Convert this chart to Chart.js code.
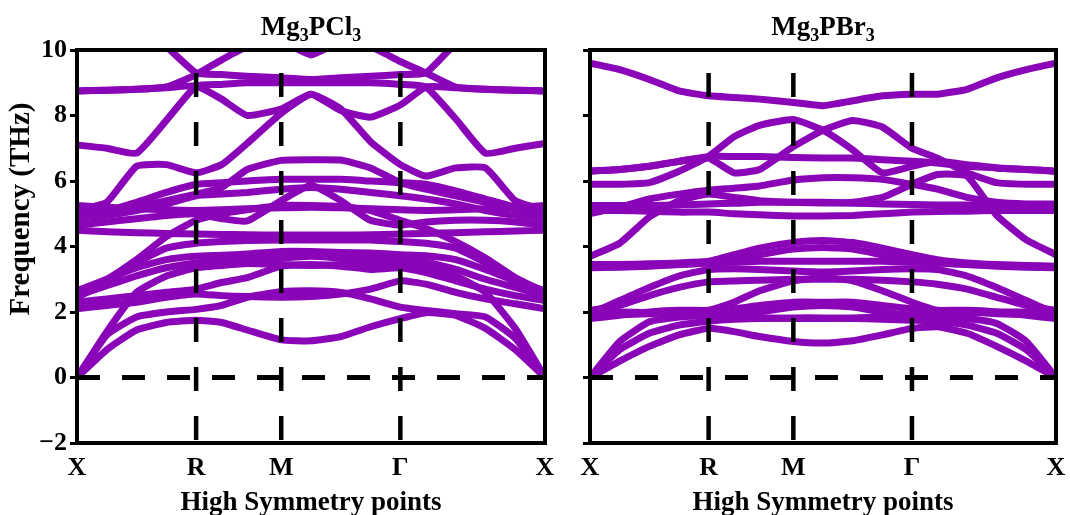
<!DOCTYPE html>
<html>
<head>
<meta charset="utf-8">
<script src="https://cdn.jsdelivr.net/npm/chart.js@4.4.0/dist/chart.umd.min.js"></script>
<style>
  html, body { margin: 0; padding: 0; background: #fff; }
  #wrap { position: relative; width: 1070px; height: 515px; }
  .panel { position: absolute; top: 0; height: 515px; }
</style>
</head>
<body>
<div id="wrap">
  <div class="panel" style="left:0;width:565px"><canvas id="clChart"></canvas></div>
  <div class="panel" style="left:565px;width:505px"><canvas id="brChart"></canvas></div>
</div>
<script>
// q-path sampling along X-R-M-Γ-X (path length units)
var kPts = [0, 0.35, 0.7, 1.05, 1.4, 1.7, 2.0, 2.4, 2.75, 3.1, 3.45, 3.8, 4.1, 4.45, 4.8, 5.15, 5.5];
var symPos = [0, 1.4, 2.4, 3.8, 5.5];
var symLabels = ['X', 'R', 'M', 'Γ', 'X'];
var yTicks = [-2, 0, 2, 4, 6, 8, 10];
var dashTop = 9.3;

// phonon branches of Mg3PCl3 (THz)
var bandsCl = [
  [0, 0.85, 1.45, 1.68, 1.75, 1.68, 1.45, 1.15, 1.12, 1.25, 1.55, 1.8, 1.98, 1.9, 1.5, 0.85, 0],
  [0, 1.3, 1.85, 2.0, 2.08, 2.2, 2.45, 2.62, 2.65, 2.6, 2.4, 2.15, 2.05, 1.95, 1.85, 1.2, 0],
  [0, 1.4, 2.6, 3.1, 3.35, 3.42, 3.48, 3.45, 3.42, 3.45, 3.5, 3.45, 3.35, 3.1, 2.6, 1.5, 0],
  [2.1, 2.2, 2.3, 2.45, 2.55, 2.5, 2.47, 2.45, 2.47, 2.55, 2.7, 2.95, 2.85, 2.6, 2.4, 2.25, 2.1],
  [2.3, 2.4, 2.5, 2.6, 2.7, 2.9, 3.05, 3.4, 3.45, 3.4, 3.3, 3.35, 3.2, 2.95, 2.7, 2.5, 2.35],
  [2.5, 2.8, 3.1, 3.35, 3.5, 3.55, 3.6, 3.65, 3.7, 3.65, 3.62, 3.6, 3.52, 3.3, 3.0, 2.75, 2.5],
  [2.65, 3.0, 3.35, 3.6, 3.7, 3.73, 3.77, 3.85, 3.85, 3.82, 3.8, 3.75, 3.72, 3.6, 3.3, 2.95, 2.65],
  [2.45, 2.9, 3.5, 3.95, 4.1, 4.15, 4.18, 4.2, 4.2, 4.2, 4.2, 4.15, 4.1, 3.95, 3.5, 2.9, 2.45],
  [4.5, 4.45, 4.42, 4.4, 4.38, 4.37, 4.36, 4.35, 4.35, 4.35, 4.36, 4.38, 4.4, 4.42, 4.45, 4.47, 4.5],
  [2.6, 3.0, 3.6, 4.3, 4.8, 5.0, 5.12, 5.25, 5.25, 5.22, 5.1, 4.8, 4.55, 4.15, 3.65, 3.05, 2.6],
  [4.65, 4.75, 4.85, 4.95, 5.0, 4.85, 4.78, 5.4, 5.87, 5.4, 4.8, 4.65, 4.75, 4.8, 4.8, 4.75, 4.65],
  [5.25, 5.2, 5.15, 5.12, 5.1, 5.12, 5.15, 5.18, 5.2, 5.18, 5.15, 5.12, 5.1, 5.12, 5.15, 5.2, 5.25],
  [4.85, 4.95, 5.1, 5.3, 5.55, 5.6, 5.65, 5.75, 5.8, 5.75, 5.65, 5.55, 5.45, 5.3, 5.1, 4.95, 4.85],
  [5.0, 5.1, 5.35, 5.65, 5.9, 5.95, 6.0, 6.05, 6.05, 6.05, 6.0, 5.95, 5.9, 5.7, 5.45, 5.2, 5.0],
  [4.9, 5.0, 5.2, 5.4, 5.6, 5.8, 6.35, 6.63, 6.65, 6.64, 6.4, 5.95, 5.75, 5.55, 5.35, 5.15, 4.95],
  [5.1, 5.35, 6.45, 6.5, 6.25, 6.5, 7.15, 8.07, 8.65, 8.2, 7.2, 6.5, 6.15, 6.4, 6.4, 5.4, 5.1],
  [7.1, 7.0, 6.85, 7.85, 8.9, 8.95, 9.0, 9.0, 9.0, 9.0, 9.0, 8.95, 8.87, 7.9, 6.85, 7.0, 7.15],
  [8.75, 8.77, 8.8, 8.85, 8.9, 8.5, 8.0, 8.2, 8.65, 8.15, 7.95, 8.32, 8.87, 8.85, 8.8, 8.77, 8.75],
  [8.75, 8.77, 8.8, 8.87, 9.25, 9.7, 10.1, 10.25, 9.85, 10.25, 10.1, 9.65, 9.3, 8.87, 8.8, 8.77, 8.75],
  [12, 11.3, 10.7, 10.1, 9.3, 9.25, 9.2, 9.15, 9.1, 9.15, 9.2, 9.25, 9.3, 10.2, 10.8, 11.4, 12]
];

// phonon branches of Mg3PBr3 (THz)
var bandsBr = [
  [0, 0.5, 0.95, 1.3, 1.5, 1.4, 1.25, 1.1, 1.05, 1.12, 1.3, 1.5, 1.55, 1.35, 0.95, 0.5, 0],
  [0, 0.85, 1.35, 1.6, 1.72, 1.78, 1.8, 1.82, 1.82, 1.8, 1.78, 1.75, 1.72, 1.6, 1.35, 0.85, 0],
  [0, 1.1, 1.7, 1.85, 1.9, 1.95, 2.0, 2.15, 2.2, 2.15, 2.0, 1.9, 1.85, 1.8, 1.65, 1.1, 0],
  [2.0, 2.0, 1.98, 1.95, 1.9, 1.85, 1.82, 1.8, 1.8, 1.82, 1.85, 1.9, 1.95, 1.98, 2.0, 2.0, 2.0],
  [1.8, 1.9, 2.0, 2.05, 2.05, 2.1, 2.2, 2.3, 2.3, 2.3, 2.2, 2.1, 2.05, 2.05, 2.0, 1.9, 1.8],
  [1.9, 1.92, 1.95, 2.0, 2.05, 2.3, 2.65, 2.95, 3.05, 2.95, 2.65, 2.3, 2.05, 2.0, 1.95, 1.92, 1.9],
  [2.05, 2.2, 2.5, 2.75, 2.92, 2.95, 2.97, 3.0, 3.0, 3.0, 2.97, 2.92, 2.85, 2.7, 2.45, 2.2, 2.05],
  [1.95, 2.35, 2.75, 3.1, 3.3, 3.32, 3.3, 3.25, 3.22, 3.25, 3.3, 3.32, 3.3, 3.1, 2.75, 2.35, 1.95],
  [3.35, 3.37, 3.4, 3.45, 3.5, 3.52, 3.55, 3.55, 3.55, 3.55, 3.55, 3.52, 3.5, 3.45, 3.4, 3.37, 3.35],
  [3.38, 3.4, 3.42, 3.45, 3.5, 3.6, 3.75, 3.92, 3.97, 3.92, 3.75, 3.6, 3.5, 3.45, 3.42, 3.4, 3.38],
  [3.45, 3.45, 3.47, 3.5, 3.55, 3.75, 3.95, 4.12, 4.18, 4.12, 3.95, 3.75, 3.6, 3.5, 3.45, 3.42, 3.4],
  [3.7, 4.1, 4.9, 5.4, 5.6, 5.5, 5.4, 5.35, 5.33, 5.35, 5.5, 5.9, 6.2, 6.15, 4.95, 4.2, 3.75],
  [5.1, 5.1, 5.08, 5.05, 5.05, 5.0, 4.97, 4.93, 4.93, 4.95, 5.0, 5.05, 5.07, 5.08, 5.1, 5.1, 5.1],
  [5.25, 5.25, 5.25, 5.27, 5.3, 5.32, 5.35, 5.35, 5.35, 5.32, 5.3, 5.28, 5.27, 5.27, 5.25, 5.25, 5.25],
  [5.0, 5.2, 5.45, 5.6, 5.72, 5.78, 5.85, 6.03, 6.1, 6.1, 6.05, 5.9, 5.75, 5.5, 5.35, 5.3, 5.3],
  [6.3, 6.35, 6.45, 6.6, 6.75, 6.75, 6.75, 6.72, 6.7, 6.7, 6.65, 6.6, 6.55, 6.45, 6.4, 6.35, 6.3],
  [5.9, 5.9, 5.95, 6.3, 6.75, 7.35, 7.7, 7.88, 7.55, 6.95, 6.25, 6.45, 6.6, 6.5, 6.4, 6.35, 6.3],
  [6.3, 6.35, 6.45, 6.6, 6.7, 6.25, 6.35, 7.05, 7.55, 7.85, 7.65, 7.0, 6.7, 6.25, 5.95, 5.9, 5.9],
  [9.6, 9.4, 9.1, 8.75, 8.6, 8.55, 8.5, 8.4, 8.3, 8.45, 8.6, 8.65, 8.65, 8.8, 9.15, 9.4, 9.6]
];

var bandColor = '#8a05b8';
var serif = '"Liberation Serif", "Times New Roman", serif';

// panel title with subscripts, y-axis title and the box around the plot
var panelPlugin = {
  id: 'panelDeco',
  afterDatasetsDraw: function(chart, args, opts) {
    var ctx = chart.ctx, a = chart.chartArea;
    ctx.save();
    ctx.strokeStyle = '#000';
    ctx.lineWidth = 4;
    ctx.strokeRect(a.left, a.top, a.right - a.left, a.bottom - a.top);
    ctx.restore();
  },
  afterDraw: function(chart, args, opts) {
    var ctx = chart.ctx, a = chart.chartArea;
    ctx.save();
    ctx.fillStyle = '#000';
    ctx.textBaseline = 'alphabetic';
    var big = 'bold 27px ' + serif, small = 'bold 18px ' + serif;
    var total = 0;
    opts.parts.forEach(function(p) {
      ctx.font = p[1] ? small : big;
      total += ctx.measureText(p[0]).width;
    });
    var x = (a.left + a.right) / 2 - total / 2;
    opts.parts.forEach(function(p) {
      ctx.font = p[1] ? small : big;
      ctx.fillText(p[0], x, p[1] ? 41 : 35);
      x += ctx.measureText(p[0]).width;
    });
    if (opts.yTitle) {
      ctx.translate(22, 209);
      ctx.rotate(-Math.PI / 2);
      ctx.font = 'bold 29px ' + serif;
      ctx.textAlign = 'center';
      ctx.textBaseline = 'middle';
      ctx.fillText(opts.yTitle, 0, 0);
    }
    ctx.restore();
  }
};

function makeChart(id, bands, parts, showY, axisW, padRight) {
  var datasets = bands.map(function(b) {
    return {
      data: kPts.map(function(k, i) { return { x: k, y: b[i] }; }),
      borderColor: bandColor, borderWidth: 7, pointRadius: 0,
      tension: 0.15, borderJoinStyle: 'round', fill: false, clip: 0, order: 2
    };
  });
  // dashed markers at R, M, Γ and the zero line
  symPos.slice(1, 4).forEach(function(p) {
    datasets.push({
      data: [{ x: p, y: dashTop }, { x: p, y: yTicks[0] }],
      borderColor: '#000', borderWidth: 4.5, borderDash: [24, 25],
      pointRadius: 0, fill: false, clip: 0, order: 0
    });
  });
  datasets.push({
    data: [{ x: symPos[0], y: 0 }, { x: symPos[4], y: 0 }],
    borderColor: '#000', borderWidth: 5, borderDash: [23, 22],
    pointRadius: 0, fill: false, clip: 0, order: 0
  });

  return new Chart(document.getElementById(id), {
    type: 'line',
    data: { datasets: datasets },
    plugins: [panelPlugin],
    options: {
      responsive: true,
      maintainAspectRatio: false,
      animation: false,
      devicePixelRatio: 1,
      events: [],
      layout: { padding: { top: 50, right: padRight, left: 0, bottom: 0 } },
      plugins: {
        legend: { display: false },
        tooltip: { enabled: false },
        panelDeco: { parts: parts, yTitle: showY ? 'Frequency (THz)' : '' }
      },
      scales: {
        x: {
          type: 'linear', min: 0, max: 5.5,
          afterBuildTicks: function(s) { s.ticks = symPos.map(function(v) { return { value: v }; }); },
          afterFit: function(s) { s.height = 72; },
          grid: { display: false },
          border: { display: false },
          ticks: {
            autoSkip: false, maxRotation: 0, padding: 2, color: '#000',
            font: { family: serif, size: 26, weight: 'bold' },
            callback: function(v, i) { return symLabels[i]; }
          },
          title: {
            display: true, text: 'High Symmetry points', color: '#000',
            font: { family: serif, size: 27, weight: 'bold', lineHeight: 0.85 },
            padding: { top: 0, bottom: 0 }
          }
        },
        y: {
          min: -2, max: 10,
          afterBuildTicks: function(s) { s.ticks = yTicks.map(function(v) { return { value: v }; }); },
          afterFit: function(s) { s.width = axisW; },
          grid: { drawOnChartArea: false, drawTicks: true, tickLength: 7, color: '#000', lineWidth: 3 },
          border: { display: false },
          ticks: {
            padding: 3, color: '#000',
            font: { family: serif, size: 26, weight: 'bold' },
            callback: function(v) { return showY ? (v < 0 ? '\u2212' + (-v) : String(v)) : ''; }
          }
        }
      }
    }
  });
}

makeChart('clChart', bandsCl, [['Mg', 0], ['3', 1], ['PCl', 0], ['3', 1]], true, 77, 20);
makeChart('brChart', bandsBr, [['Mg', 0], ['3', 1], ['PBr', 0], ['3', 1]], false, 25, 14);
</script>
</body>
</html>
